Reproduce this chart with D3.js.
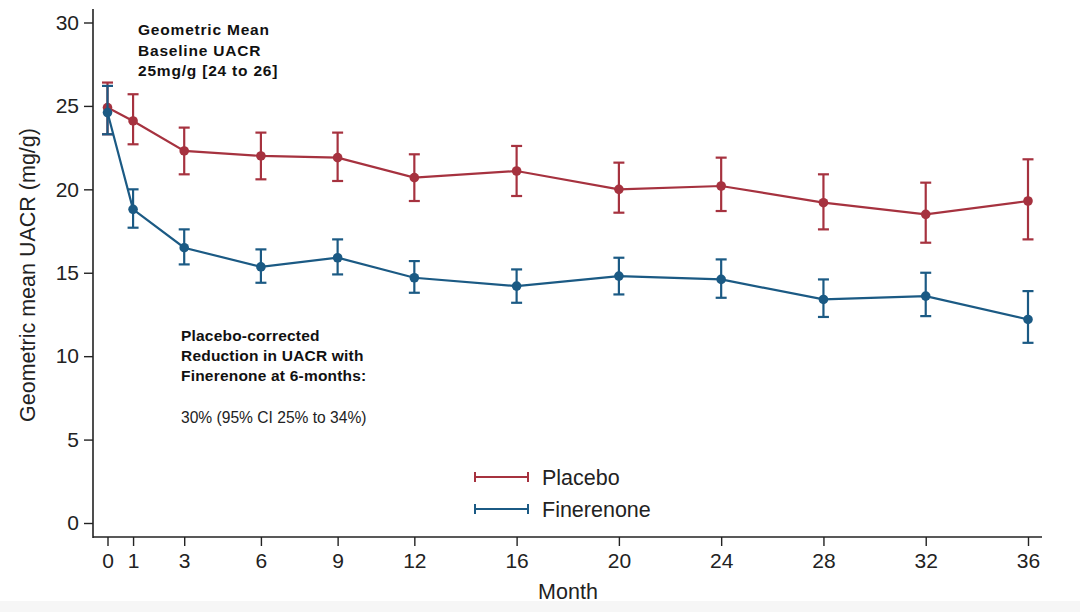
<!DOCTYPE html>
<html>
<head>
<meta charset="utf-8">
<script src="https://cdn.jsdelivr.net/npm/d3@7"></script>
<style>
  body { margin: 0; background: #fff; }
  text { font-family: "Liberation Sans", Arial, sans-serif; }
</style>
</head>
<body>
<div id="chart"></div>
<script>
// data
const months = [0, 1, 3, 6, 9, 12, 16, 20, 24, 28, 32, 36];
const monthTicks = [0, 1, 3, 6, 9, 12, 16, 20, 24, 28, 32, 36];
const yTicks = [0, 5, 10, 15, 20, 25, 30];

const placeboMean = [24.9, 24.1, 22.3, 22.0, 21.9, 20.7, 21.1, 20.0, 20.2, 19.2, 18.5, 19.3];
const placeboLow  = [23.3, 22.7, 20.9, 20.6, 20.5, 19.3, 19.6, 18.6, 18.7, 17.6, 16.8, 17.0];
const placeboHigh = [26.4, 25.7, 23.7, 23.4, 23.4, 22.1, 22.6, 21.6, 21.9, 20.9, 20.4, 21.8];

const fineMean = [24.6, 18.8, 16.5, 15.35, 15.9, 14.7, 14.2, 14.8, 14.6, 13.4, 13.6, 12.2];
const fineLow  = [23.3, 17.7, 15.5, 14.4, 14.9, 13.8, 13.2, 13.7, 13.5, 12.35, 12.4, 10.8];
const fineHigh = [26.2, 20.0, 17.6, 16.4, 17.0, 15.7, 15.2, 15.9, 15.8, 14.6, 15.0, 13.9];

const W = 1080, H = 612;
const red = "#a6323f", blue = "#1b5a84";

const svg = d3.select("#chart").append("svg")
  .attr("width", W).attr("height", H);

// faint band at the bottom edge
svg.append("rect").attr("x", 0).attr("y", 601).attr("width", W).attr("height", 11)
  .attr("fill", "#f6f6f6");

const x = d3.scaleLinear().domain([0, 36]).range([107.5, 1028]);
const y = d3.scaleLinear().domain([0, 30]).range([523, 22.5]);

const axisX0 = 93, axisY0 = 537;

// axis lines
svg.append("line").attr("x1", axisX0).attr("x2", axisX0).attr("y1", 9).attr("y2", axisY0 + 1)
  .attr("stroke", "#222").attr("stroke-width", 1.6);
svg.append("line").attr("x1", axisX0).attr("x2", 1042).attr("y1", axisY0).attr("y2", axisY0)
  .attr("stroke", "#222").attr("stroke-width", 1.6);

// Y axis
const gy = svg.append("g").attr("transform", `translate(${axisX0},0)`)
  .call(d3.axisLeft(y).tickValues(yTicks).tickSize(9).tickPadding(5).tickSizeOuter(0));
gy.select(".domain").remove();
gy.selectAll(".tick line").attr("stroke", "#222").attr("stroke-width", 1.4);
gy.selectAll(".tick text").attr("font-size", 21).attr("fill", "#222")
  .style("font-family", "'Liberation Sans', Arial, sans-serif");

// X axis
const gx = svg.append("g").attr("transform", `translate(0,${axisY0})`)
  .call(d3.axisBottom(x).tickValues(monthTicks).tickSize(9).tickPadding(7).tickSizeOuter(0));
gx.select(".domain").remove();
gx.selectAll(".tick line").attr("stroke", "#222").attr("stroke-width", 1.4);
gx.selectAll(".tick text").attr("font-size", 21).attr("fill", "#222")
  .style("font-family", "'Liberation Sans', Arial, sans-serif");

// axis titles
svg.append("text").attr("x", 568).attr("y", 599).attr("text-anchor", "middle")
  .attr("font-size", 21.5).attr("fill", "#222").text("Month");
svg.append("text").attr("transform", "translate(35,275) rotate(-90)").attr("text-anchor", "middle")
  .attr("font-size", 21.5).attr("fill", "#222").text("Geometric mean UACR (mg/g)");

// series
function drawSeries(mean, low, high, color) {
  const pts = months.map((m, i) => ({ m: m, v: mean[i], lo: low[i], hi: high[i] }));
  const g = svg.append("g");
  g.append("path").datum(pts)
    .attr("fill", "none").attr("stroke", color).attr("stroke-width", 2.2)
    .attr("d", d3.line().x(d => x(d.m)).y(d => y(d.v)));
  g.selectAll(".bar").data(pts).join("line")
    .attr("x1", d => x(d.m)).attr("x2", d => x(d.m))
    .attr("y1", d => y(d.lo)).attr("y2", d => y(d.hi))
    .attr("stroke", color).attr("stroke-width", 2.2);
  ["lo", "hi"].forEach(k => {
    g.selectAll(".cap" + k).data(pts).join("line")
      .attr("x1", d => x(d.m) - 5.5).attr("x2", d => x(d.m) + 5.5)
      .attr("y1", d => y(d[k])).attr("y2", d => y(d[k]))
      .attr("stroke", color).attr("stroke-width", 2.2);
  });
  g.selectAll("circle").data(pts).join("circle")
    .attr("cx", d => x(d.m)).attr("cy", d => y(d.v)).attr("r", 4.8)
    .attr("fill", color);
}
drawSeries(placeboMean, placeboLow, placeboHigh, red);
drawSeries(fineMean, fineLow, fineHigh, blue);

// annotations
const note1 = ["Geometric Mean", "Baseline UACR", "25mg/g [24 to 26]"];
svg.append("g").selectAll("text").data(note1).join("text")
  .attr("x", 138).attr("y", (d, i) => 35 + i * 20.5)
  .attr("font-size", 15.5).attr("font-weight", "bold").attr("letter-spacing", 0.8)
  .attr("fill", "#111").text(d => d);

const note2 = ["Placebo-corrected", "Reduction in UACR with", "Finerenone at 6-months:"];
svg.append("g").selectAll("text").data(note2).join("text")
  .attr("x", 181).attr("y", (d, i) => 341 + i * 20)
  .attr("font-size", 15.5).attr("font-weight", "bold").attr("letter-spacing", 0.2)
  .attr("fill", "#111").text(d => d);
svg.append("text").attr("x", 181).attr("y", 423)
  .attr("font-size", 15.6).attr("fill", "#222").text("30% (95% CI 25% to 34%)");

// legend
const legend = [{ name: "Placebo", color: red }, { name: "Finerenone", color: blue }];
const lg = svg.append("g").selectAll("g").data(legend).join("g")
  .attr("transform", (d, i) => `translate(475,${477 + i * 32})`);
lg.append("line").attr("x1", 0).attr("x2", 53).attr("y1", 0).attr("y2", 0)
  .attr("stroke", d => d.color).attr("stroke-width", 2.2);
lg.append("line").attr("x1", 0).attr("x2", 0).attr("y1", -5).attr("y2", 5)
  .attr("stroke", d => d.color).attr("stroke-width", 2);
lg.append("line").attr("x1", 53).attr("x2", 53).attr("y1", -5).attr("y2", 5)
  .attr("stroke", d => d.color).attr("stroke-width", 2);
lg.append("text").attr("x", 67).attr("y", 8).attr("font-size", 21.5).attr("fill", "#222")
  .text(d => d.name);
</script>
</body>
</html>
